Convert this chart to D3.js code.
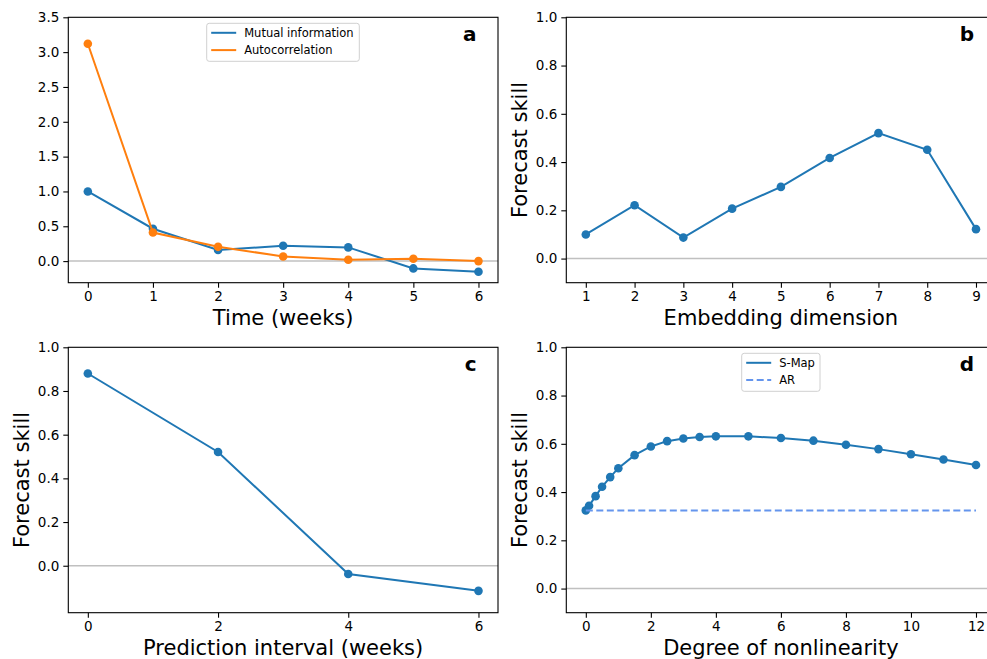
<!DOCTYPE html>
<html>
<head>
<meta charset="utf-8">
<script src="https://cdn.jsdelivr.net/npm/d3@7"></script>
<style>
  body { margin: 0; background: #fff; }
  svg { display: block; font-family: "DejaVu Sans", sans-serif; }
</style>
</head>
<body>
<div id="chart"></div>
<script>
// panel a
const lagWeeks = [0, 1, 2, 3, 4, 5, 6];
const mutualInfo = [1.0, 0.465, 0.16, 0.22, 0.197, -0.105, -0.153];
const autoCorr = [3.12, 0.41, 0.205, 0.067, 0.02, 0.033, 0.0];
// panel b
const embedDims = [1, 2, 3, 4, 5, 6, 7, 8, 9];
const embedSkill = [0.10, 0.221, 0.087, 0.207, 0.297, 0.417, 0.52, 0.451, 0.122];
// panel c
const predInterval = [0, 2, 4, 6];
const predSkill = [0.88, 0.521, -0.038, -0.115];
// panel d
const theta = [0, 0.1, 0.3, 0.5, 0.75, 1, 1.5, 2, 2.5, 3, 3.5, 4, 5, 6, 7, 8, 9, 10, 11, 12];
const smapSkill = [0.324, 0.343, 0.383, 0.422, 0.462, 0.499, 0.553, 0.589, 0.611, 0.622, 0.628, 0.631, 0.631, 0.624, 0.613, 0.596, 0.578, 0.557, 0.535, 0.512];
const arSkill = 0.324;

const aTicks = [0, 0.5, 1, 1.5, 2, 2.5, 3, 3.5];
const skillTicks = [0, 0.2, 0.4, 0.6, 0.8, 1.0];

const blue = '#1f77b4', orange = '#ff7f0e', arColor = '#6495ed';

const width = 987, height = 659;
const svg = d3.select('#chart').append('svg')
    .attr('width', width)
    .attr('height', height);

const drawPanel = (opt) => {
    const x = d3.scaleLinear().domain(opt.xDomain).range([opt.left, opt.right]);
    const y = d3.scaleLinear().domain(opt.yDomain).range([opt.bottom, opt.top]);
    const g = svg.append('g');

    // zero line
    g.append('line')
        .attr('x1', opt.left).attr('x2', opt.right)
        .attr('y1', y(0)).attr('y2', y(0))
        .attr('stroke', '#c0c0c0').attr('stroke-width', 1.5);

    opt.series.forEach((s) => {
        const pts = s.x.map((v, i) => [v, s.y[i]]);
        const line = d3.line().x(d => x(d[0])).y(d => y(d[1]));
        g.append('path')
            .attr('d', line(pts))
            .attr('fill', 'none')
            .attr('stroke', s.color)
            .attr('stroke-width', 2)
            .attr('stroke-dasharray', s.dash || null);
        if (s.markers) {
            g.selectAll(null).data(pts).enter().append('circle')
                .attr('cx', d => x(d[0]))
                .attr('cy', d => y(d[1]))
                .attr('r', 4.3)
                .attr('fill', s.color);
        }
    });

    // frame
    g.append('rect')
        .attr('x', opt.left).attr('y', opt.top)
        .attr('width', opt.right - opt.left).attr('height', opt.bottom - opt.top)
        .attr('fill', 'none').attr('stroke', '#000').attr('stroke-width', 1.1);

    const xAxis = g.append('g')
        .attr('transform', `translate(0,${opt.bottom})`)
        .call(d3.axisBottom(x).tickValues(opt.xTicks).tickSize(5).tickPadding(4).tickFormat(d3.format('d')));
    const yAxis = g.append('g')
        .attr('transform', `translate(${opt.left},0)`)
        .call(d3.axisLeft(y).tickValues(opt.yTicks).tickSize(5).tickPadding(4).tickFormat(d3.format('.1f')));
    [xAxis, yAxis].forEach((ax) => {
        ax.select('.domain').remove();
        ax.selectAll('text').attr('font-family', 'DejaVu Sans').attr('font-size', 13.5).attr('fill', '#000');
        ax.selectAll('line').attr('stroke', '#000').attr('stroke-width', 1.1);
    });

    g.append('text')
        .attr('x', (opt.left + opt.right) / 2)
        .attr('y', opt.bottom + 42)
        .attr('text-anchor', 'middle')
        .attr('font-size', 21)
        .text(opt.xLabel);

    if (opt.yLabel) {
        g.append('text')
            .attr('transform', `translate(${opt.left - 39},${(opt.top + opt.bottom) / 2}) rotate(-90)`)
            .attr('text-anchor', 'middle')
            .attr('font-size', 21)
            .text(opt.yLabel);
    }

    g.append('text')
        .attr('x', opt.left + 0.95 * (opt.right - opt.left))
        .attr('y', opt.top + 24)
        .attr('text-anchor', 'end')
        .attr('font-size', 20)
        .attr('font-weight', 'bold')
        .text(opt.letter);

    if (opt.legend) {
        const lg = g.append('g').attr('transform', `translate(${opt.legend.x},${opt.legend.y})`);
        lg.append('rect')
            .attr('width', opt.legend.w).attr('height', 38)
            .attr('rx', 2.5)
            .attr('fill', '#fff').attr('fill-opacity', 0.8)
            .attr('stroke', '#d0d0d0');
        opt.series.forEach((s, i) => {
            const yy = 9.5 + i * 17.3;
            lg.append('line')
                .attr('x1', 4.5).attr('x2', 29.5)
                .attr('y1', yy).attr('y2', yy)
                .attr('stroke', s.color).attr('stroke-width', 2)
                .attr('stroke-dasharray', s.dash || null);
            lg.append('text')
                .attr('x', 37.5).attr('y', yy + 4)
                .attr('font-size', 11.5)
                .text(s.label);
        });
    }
};

drawPanel({
    left: 68.3, right: 498, top: 17.3, bottom: 282.7,
    xDomain: [-0.3, 6.3], yDomain: [-0.31, 3.5],
    xTicks: lagWeeks, yTicks: aTicks,
    xLabel: 'Time (weeks)', letter: 'a',
    series: [
        { x: lagWeeks, y: mutualInfo, color: blue, markers: true, label: 'Mutual information' },
        { x: lagWeeks, y: autoCorr, color: orange, markers: true, label: 'Autocorrelation' }
    ],
    legend: { x: 206.7, y: 23.3, w: 152.6 }
});

drawPanel({
    left: 566.3, right: 995.5, top: 17.3, bottom: 282.7,
    xDomain: [0.6, 9.4], yDomain: [-0.1, 1.0],
    xTicks: embedDims, yTicks: skillTicks,
    xLabel: 'Embedding dimension', yLabel: 'Forecast skill', letter: 'b',
    series: [{ x: embedDims, y: embedSkill, color: blue, markers: true }]
});

drawPanel({
    left: 68.3, right: 498, top: 347.3, bottom: 612.7,
    xDomain: [-0.3, 6.3], yDomain: [-0.215, 1.0],
    xTicks: predInterval, yTicks: skillTicks,
    xLabel: 'Prediction interval (weeks)', yLabel: 'Forecast skill', letter: 'c',
    series: [{ x: predInterval, y: predSkill, color: blue, markers: true }]
});

drawPanel({
    left: 566.3, right: 995.5, top: 347.3, bottom: 612.7,
    xDomain: [-0.6, 12.6], yDomain: [-0.1, 1.0],
    xTicks: [0, 2, 4, 6, 8, 10, 12], yTicks: skillTicks,
    xLabel: 'Degree of nonlinearity', yLabel: 'Forecast skill', letter: 'd',
    series: [
        { x: theta, y: smapSkill, color: blue, markers: true, label: 'S-Map' },
        { x: [theta[0], theta[theta.length - 1]], y: [arSkill, arSkill], color: arColor, dash: '7,3.5', label: 'AR' }
    ],
    legend: { x: 741.7, y: 353.3, w: 78.3 }
});
</script>
</body>
</html>
